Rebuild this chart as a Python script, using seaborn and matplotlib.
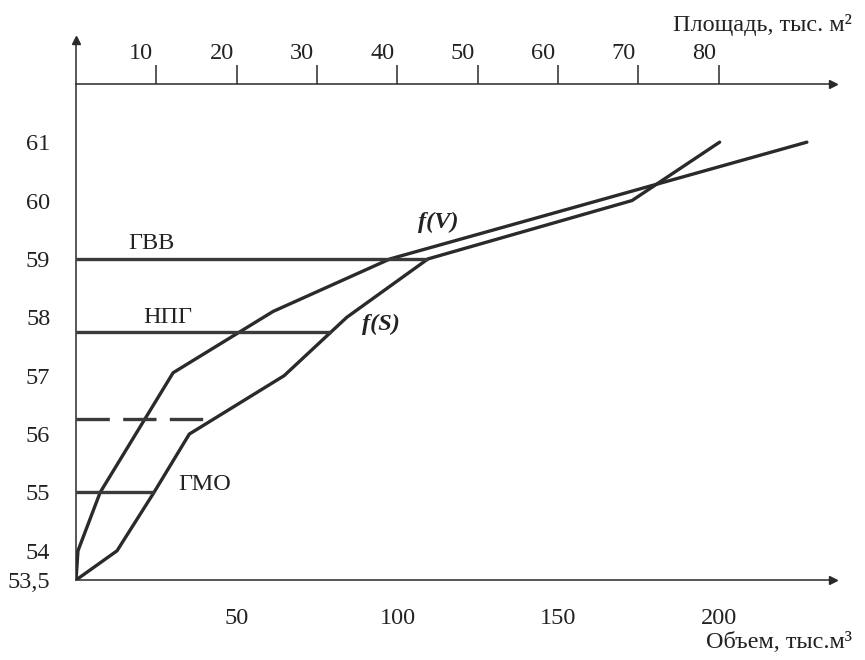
import numpy as np
import pandas as pd
import seaborn as sns
import matplotlib.pyplot as plt
from matplotlib.transforms import ScaledTranslation

# кривая объемов f(V): отметка, м -> объем, тыс. м3
levelV = [53.5, 54.0, 55.0, 57.05, 58.1, 59.0, 61.0]
volume = [0, 0.6, 7.5, 30.2, 61.3, 97.7, 227.4]

# кривая площадей f(S): отметка, м -> площадь, тыс. м2
levelS = [53.5, 54.0, 55.0, 56.0, 57.0, 58.0, 59.0, 60.0, 61.0]
area = [0, 5.1, 9.7, 14.1, 25.9, 33.7, 43.8, 69.2, 80.1]

# характерные уровни
markNames = ["ГВВ", "НПГ", "", "ГМО"]
markLevels = [59.0, 57.75, 56.25, 55.0]
markDashed = [False, False, True, False]

volTicks = [50, 100, 150, 200]
areaTicks = [10, 20, 30, 40, 50, 60, 70, 80]
zTicks = [53.5, 54, 55, 56, 57, 58, 59, 60, 61]
zLabels = ["53,5", "54", "55", "56", "57", "58", "59", "60", "61"]

k = 2.5  # тыс. м3 на одно деление площади
fs = 17.5

sns.set_theme(style="white")
plt.rcParams["font.family"] = ["Liberation Serif", "DejaVu Serif"]
plt.rcParams["axes.linewidth"] = 1.1

ink = "#2a2a2a"
fig = plt.figure(figsize=(8.65, 6.6), dpi=100)
ax = fig.add_axes([0.0879, 0.1212, 0.875, 0.8182])

dfV = pd.DataFrame({"x": volume, "z": levelV})
dfS = pd.DataFrame({"x": np.array(area) * k, "z": levelS})
sns.lineplot(data=dfV, x="x", y="z", sort=False, color=ink, lw=2.4, ax=ax)
sns.lineplot(data=dfS, x="x", y="z", sort=False, color=ink, lw=2.4, ax=ax)

for name, lev, dashed in zip(markNames, markLevels, markDashed):
    xEnd = np.interp(lev, levelS, area) * k
    ls = (0, (10, 4)) if dashed else "-"
    ax.hlines(lev, 0, xEnd, color="#3a3a3a", lw=2.4, linestyles=ls)

txt = dict(fontsize=fs, color="#222222", ha="center", va="center")
ax.text(23.6, 59.27, "ГВВ", **txt)
ax.text(28.5, 58.0, "НПГ", **txt)
ax.text(40, 55.13, "ГМО", **txt)
ax.text(112.6, 59.63, "f(V)", style="italic", weight="bold", **txt)
ax.text(95, 57.88, "f(S)", style="italic", weight="bold", **txt)

ax.set_xlim(0, 235.5)
ax.set_ylim(53.5, 62.75)
ax.spines["top"].set_visible(False)
ax.spines["right"].set_visible(False)
for s in ["left", "bottom"]:
    ax.spines[s].set_color(ink)
ax.set_xticks(volTicks)
ax.set_yticks(zTicks, zLabels)
ax.set_xlabel("")
ax.set_ylabel("")
ax.tick_params(axis="both", direction="out", width=1.1, colors=ink,
               labelsize=fs, labelcolor="#222222")
ax.tick_params(axis="x", length=10, pad=10)
ax.tick_params(axis="y", length=12.5, pad=6)

topPos = (62 - 53.5) / (62.75 - 53.5)
sec = ax.secondary_xaxis(topPos, functions=(lambda v: v / k, lambda s: s * k))
sec.spines["top"].set_color(ink)
sec.spines["top"].set_linewidth(1.1)
sec.set_xticks(areaTicks)
sec.tick_params(axis="x", direction="out", length=13.5, width=1.1,
                colors=ink, labelsize=fs, labelcolor="#222222", pad=1)
shift = ScaledTranslation(-0.15, 0, fig.dpi_scale_trans)
for lbl in sec.get_xticklabels():
    lbl.set_transform(lbl.get_transform() + shift)

ax.plot(1, 0, ">", color=ink, ms=6, transform=ax.transAxes, clip_on=False)
ax.plot(1, topPos, ">", color=ink, ms=6, transform=ax.transAxes, clip_on=False)
ax.plot(0, 1, "^", color=ink, ms=6, transform=ax.transAxes, clip_on=False)

fig.text(0.985, 0.962, "Площадь, тыс. м²", fontsize=fs, ha="right", va="center", color="#222222")
fig.text(0.985, 0.026, "Объем, тыс.м³", fontsize=fs, ha="right", va="center", color="#222222")

fig.savefig("out.png", dpi=100, facecolor="white")
